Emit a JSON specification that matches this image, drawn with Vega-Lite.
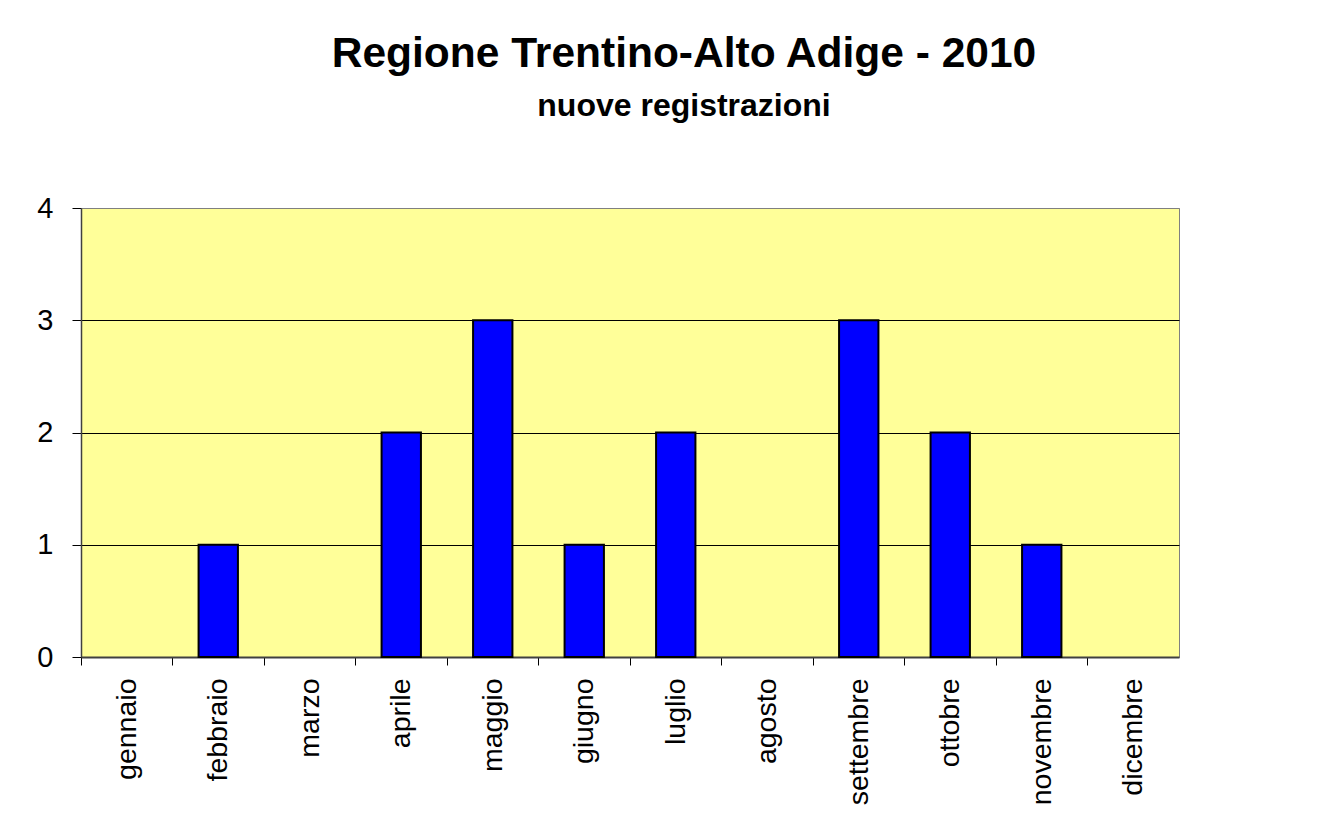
{
  "$schema": "https://vega.github.io/schema/vega-lite/v6.json",
  "width": 1098,
  "height": 449,
  "autosize": {"type": "none"},
  "padding": {"left": 81, "top": 208, "right": 162, "bottom": 163},
  "background": "white",
  "title": {
    "text": "Regione Trentino-Alto Adige - 2010",
    "subtitle": "nuove registrazioni",
    "anchor": "middle",
    "frame": "group",
    "dx": 54,
    "font": "Liberation Sans",
    "fontSize": 42.5,
    "fontWeight": "bold",
    "color": "black",
    "subtitleFont": "Liberation Sans",
    "subtitleFontSize": 32,
    "subtitleFontWeight": "bold",
    "subtitleColor": "black",
    "subtitlePadding": 16,
    "offset": 72
  },
  "data": {
    "values": [
      {"mese": "gennaio", "valore": 0},
      {"mese": "febbraio", "valore": 1},
      {"mese": "marzo", "valore": 0},
      {"mese": "aprile", "valore": 2},
      {"mese": "maggio", "valore": 3},
      {"mese": "giugno", "valore": 1},
      {"mese": "luglio", "valore": 2},
      {"mese": "agosto", "valore": 0},
      {"mese": "settembre", "valore": 3},
      {"mese": "ottobre", "valore": 2},
      {"mese": "novembre", "valore": 1},
      {"mese": "dicembre", "valore": 0}
    ]
  },
  "mark": {"type": "bar", "width": {"band": 0.43}, "fill": "#0000FF", "stroke": "black"},
  "encoding": {
    "x": {
      "field": "mese",
      "type": "nominal",
      "sort": null,
      "scale": {"paddingInner": 0, "paddingOuter": 0},
      "axis": {
        "title": null,
        "bandPosition": 0,
        "tickSize": 8,
        "tickColor": "black",
        "labelAngle": -90,
        "labelAlign": "right",
        "labelBaseline": "middle",
        "labelFont": "Liberation Sans",
        "labelFontSize": 28.5,
        "labelColor": "black",
        "labelPadding": 13,
        "domainColor": "#404040",
        "domainWidth": 2,
        "grid": false
      }
    },
    "y": {
      "field": "valore",
      "type": "quantitative",
      "scale": {"domain": [0, 4], "nice": false},
      "axis": {
        "title": null,
        "values": [0, 1, 2, 3, 4],
        "tickSize": 9,
        "tickColor": "black",
        "labelFont": "Liberation Sans",
        "labelFontSize": 29,
        "labelColor": "black",
        "labelPadding": 19,
        "domainColor": "#404040",
        "domainWidth": 1.5,
        "grid": true,
        "gridColor": {"condition": {"test": "datum.value === 4 || datum.value === 0", "value": "#808080"}, "value": "black"},
        "gridWidth": 1
      }
    },
    "strokeWidth": {"condition": {"test": "datum.valore === 0", "value": 0}, "value": 2}
  },
  "config": {
    "view": {"fill": "#FFFF99", "stroke": "#808080", "strokeWidth": 1}
  }
}
